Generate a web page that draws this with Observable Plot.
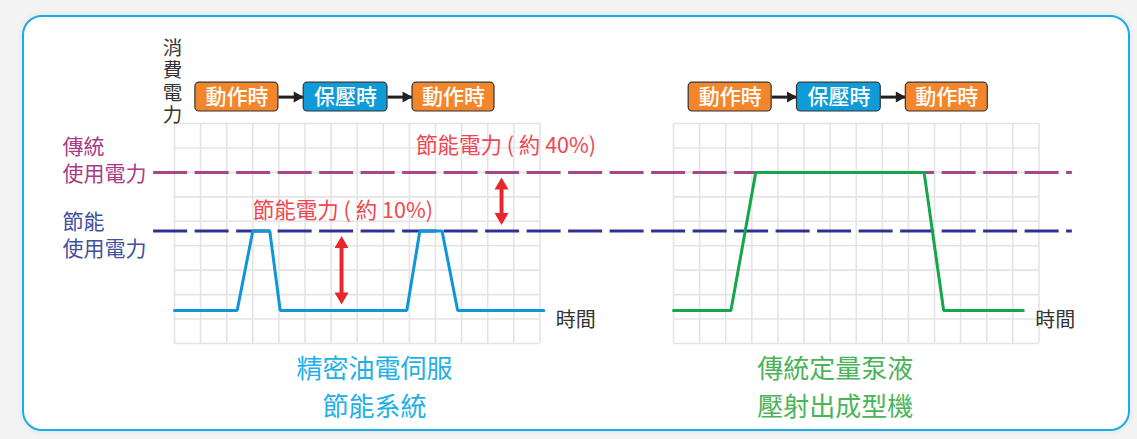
<!DOCTYPE html>
<html>
<head>
<meta charset="utf-8">
<script src="https://cdn.jsdelivr.net/npm/d3@7"></script>
<script src="https://cdn.jsdelivr.net/npm/@observablehq/plot@0.6"></script>
<style>
html, body { margin: 0; padding: 0; background: #f3f3f3; }
#wrap { position: relative; width: 1137px; height: 439px; overflow: hidden; }
#card { position: absolute; left: 22px; top: 15px; width: 1108px; height: 416px; box-sizing: border-box;
        border: 2px solid #19ade8; border-radius: 20px; background: #fff; box-shadow: 0 0 6px rgba(0,0,0,0.07); }
#chart { position: absolute; left: 0; top: 0; }
</style>
</head>
<body>
<div id="wrap"><div id="card"></div><div id="chart"></div></div>
<script>
// ---------- data (time in grid columns, power in grid rows) ----------
const panelTitles = ["精密油電伺服\n節能系統", "傳統定量泵液\n壓射出成型機"];
const phaseLabels = ["動作時", "保壓時", "動作時"];
const phaseKinds  = ["work", "hold", "work"];
const phaseStart  = [0.8, 4.95, 9.12];
const phaseEnd    = [3.98, 8.16, 12.26];

const servoTime  = [0, 2.4, 3.0, 3.65, 4.05, 8.9, 9.4, 10.25, 10.85, 14.15];
const servoPower = [1.35, 1.35, 4.6, 4.6, 1.35, 1.35, 4.6, 4.6, 1.35, 1.35];
const pumpTime   = [0, 2.2, 3.15, 9.6, 10.35, 13.4];
const pumpPower  = [1.35, 1.35, 7, 7, 1.35, 1.35];

const levelLabels = ["傳統\n使用電力", "節能\n使用電力"];
const levelValues = [7, 4.6];

const savingLabels    = ["節能電力 ( 約 10%)", "節能電力 ( 約 40%)"];
const savingArrowTime = [6.4, 12.53];
const savingFrom      = [1.35, 4.6];
const savingTo        = [4.6, 7];
const savingLabelTime  = [3.0, 9.25];
const savingLabelPower = [5.43, 8.08];

const axisTitle = "消費電力";
const timeTitle = "時間";

// ---------- layout ----------
const COLS = 14, ROWS = 9;
const ROW_PX = 220 / ROWS;
const OFF = [0, 19.12];            // x offset of each panel (grid columns)
const BOX_SHIFT = [0, -0.22];
const BOX_Y1 = 9.49, BOX_Y2 = 10.67, BOX_YC = 10.08;
const DASH_X1 = -0.8, DASH_X2 = OFF[1] + 15.28;
const TITLE_X = [7.66, 6.2];
const LEVEL_DY = [-13.5, 3];
const AXIS_CENTER = 55;            // px above the grid top (anchor of the vertical title)
const FONT = "'Noto Sans CJK TC', 'Noto Sans', sans-serif";

const C = {
  grid: "#e4e4e4", purple: "#a6478e", navy: "#2d3393",
  purpleText: "#a93a87", navyText: "#3f519c",
  servo: "#0f95d8", pump: "#14a64a", red: "#e8262d", redText: "#ef4650",
  work: "#f3862a", hold: "#0e9bd8", boxStroke: "#333", text: "#333",
  title0: "#22b0e6", title1: "#4bb35a"
};

// ---------- derived tables ----------
const vgrid = [], hgrid = [];
OFF.forEach(o => {
  for (let c = 0; c <= COLS; c++) vgrid.push({x: c + o});
  for (let r = 0; r <= ROWS; r++) hgrid.push({y: r, x1: o, x2: o + COLS});
});
const servo = servoTime.map((t, i) => ({x: t + OFF[0], y: servoPower[i]}));
const pump  = pumpTime.map((t, i) => ({x: t + OFF[1], y: pumpPower[i]}));
const levels = levelLabels.map((l, i) => ({label: l, y: levelValues[i], i}));
const boxes = [], links = [];
OFF.forEach((o, p) => {
  phaseLabels.forEach((l, i) => {
    const s = o + BOX_SHIFT[p];
    boxes.push({label: l, kind: phaseKinds[i], x1: phaseStart[i] + s, x2: phaseEnd[i] + s});
    if (i < phaseLabels.length - 1) links.push({x1: phaseEnd[i] + s, x2: phaseStart[i + 1] + s});
  });
});
const savings = savingLabels.map((l, i) => ({
  label: l, x: savingArrowTime[i], lo: savingFrom[i], hi: savingTo[i],
  lx: savingLabelTime[i], ly: savingLabelPower[i]
}));
const titles = panelTitles.map((t, i) => ({t, x: OFF[i] + TITLE_X[i], c: i ? C.title1 : C.title0}));

// custom triangle symbols: tip at the anchor point
const tri = (dir, len, wid) => ({draw(ctx) {
  if (dir === "up")   { ctx.moveTo(0, 0); ctx.lineTo(wid / 2, len); ctx.lineTo(-wid / 2, len); }
  else if (dir === "down") { ctx.moveTo(0, 0); ctx.lineTo(wid / 2, -len); ctx.lineTo(-wid / 2, -len); }
  else { ctx.moveTo(0, 0); ctx.lineTo(-len, wid / 2); ctx.lineTo(-len, -wid / 2); }
  ctx.closePath();
}});

const levelMarks = levels.map(d => Plot.text([d], {x: 0, y: "y", text: "label", dx: -112, dy: LEVEL_DY[d.i],
  textAnchor: "start", lineAnchor: "middle", lineHeight: 1.3, fontSize: 21,
  fill: d.i ? C.navyText : C.purpleText}));

const chart = Plot.plot({
  width: 1137, height: 439,
  x: {domain: [0, COLS], range: [174, 174 + 26.1 * COLS], axis: null},
  y: {domain: [0, ROWS], range: [343, 123], axis: null},
  style: {background: "transparent", fontFamily: FONT, overflow: "visible"},
  marks: [
    // grid
    Plot.ruleX(vgrid, {x: "x", y1: 0, y2: ROWS, stroke: C.grid, strokeWidth: 1.6}),
    Plot.ruleY(hgrid, {y: "y", x1: "x1", x2: "x2", stroke: C.grid, strokeWidth: 1.6}),
    // reference levels
    Plot.ruleY(levels, {y: "y", x1: DASH_X1, x2: DASH_X2, stroke: d => d.i ? C.navy : C.purple,
      strokeWidth: 3, strokeDasharray: "34,7.5"}),
    ...levelMarks,
    // series
    Plot.line(servo, {x: "x", y: "y", stroke: C.servo, strokeWidth: 3, strokeLinejoin: "miter"}),
    Plot.line(pump, {x: "x", y: "y", stroke: C.pump, strokeWidth: 3, strokeLinejoin: "miter"}),
    Plot.text([servo, pump].map(s => s[s.length - 1]), {x: "x", y: "y", text: () => timeTitle,
      dx: 12, dy: 10, textAnchor: "start", fontSize: 20, fill: C.text}),
    // saving arrows (y1 = top end so that the insets shorten the shaft)
    Plot.ruleX(savings, {x: "x", y1: "hi", y2: "lo", stroke: C.red, strokeWidth: 4, insetTop: 14, insetBottom: 15}),
    Plot.dot(savings, {x: "x", y: "hi", dy: 5, symbol: tri("up", 12, 14), fill: C.red, stroke: "none"}),
    Plot.dot(savings, {x: "x", y: "lo", dy: -6, symbol: tri("down", 12, 14), fill: C.red, stroke: "none"}),
    Plot.text(savings, {x: "lx", y: "ly", text: "label", textAnchor: "start", fontSize: 21.5, fill: C.redText}),
    // vertical axis title (made vertical below)
    Plot.text([axisTitle], {x: 0, y: ROWS + AXIS_CENTER / ROW_PX, text: d => d, dx: -2,
      lineAnchor: "top", fontSize: 19.5, fill: C.text}),
    // phase boxes
    Plot.link(links, {x1: "x1", x2: "x2", y1: BOX_YC, y2: BOX_YC, stroke: "#231f20", strokeWidth: 3}),
    Plot.dot(links, {x: "x2", y: BOX_YC, symbol: tri("right", 10, 11), fill: "#231f20", stroke: "none"}),
    Plot.rect(boxes, {x1: "x1", x2: "x2", y1: BOX_Y1, y2: BOX_Y2, fill: d => C[d.kind], stroke: C.boxStroke,
      strokeWidth: 1.2, rx: 4}),
    Plot.text(boxes, {x: d => (d.x1 + d.x2) / 2, y: BOX_YC, text: "label", fill: "white", fontSize: 21,
      fontWeight: 500}),
    // panel titles
    Plot.text(titles, {x: "x", y: 0, text: "t", dy: 41, lineAnchor: "middle", lineHeight: 1.46,
      fontSize: 26, fill: "c"})
  ]
});
// vertical writing for the axis title
d3.select(chart).selectAll("text").filter(function() { return this.textContent === axisTitle; })
  .attr("writing-mode", "tb")
  .style("writing-mode", "vertical-rl")
  .style("letter-spacing", "2.6px")
  .attr("dy", null)
  .attr("text-anchor", "middle");
document.getElementById("chart").appendChild(chart);
</script>
</body>
</html>
